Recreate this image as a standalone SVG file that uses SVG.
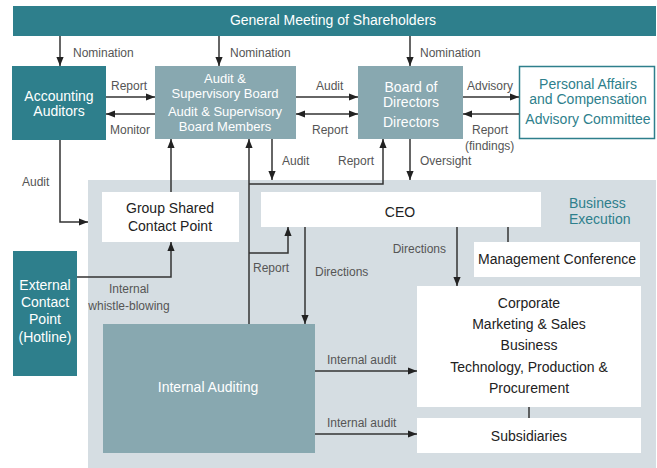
<svg xmlns="http://www.w3.org/2000/svg" width="657" height="468" viewBox="0 0 657 468">
<style>
.t{font-family:"Liberation Sans","DejaVu Sans",sans-serif;}
.bx{font-size:14px;text-anchor:middle;}
.sm{font-size:13px;}
.w{fill:#ffffff;}
.d{fill:#222222;}
.tl{fill:#2e7f8c;}
.lb{font-size:12px;fill:#555555;}
.c{fill:none;stroke:#333333;stroke-width:1.5;}
.teal{fill:#2e7f8c;}
.gb{fill:#88a8b0;}
.wh{fill:#ffffff;}
</style>
<defs>
<marker id="ah" viewBox="0 0 10 10" refX="10" refY="5" markerWidth="9" markerHeight="9" markerUnits="userSpaceOnUse" orient="auto-start-reverse">
<path d="M0,1 L10,5 L0,9 z" fill="#222222"/>
</marker>
</defs>
<rect x="88" y="180" width="568" height="288" fill="#d5dde2"/>
<g id="gms">
<rect x="13" y="6" width="643" height="30" class="teal"/>
<text x="333" y="25" class="t bx w">General Meeting of Shareholders</text>
</g>
<g id="acc">
<rect x="12" y="66" width="94" height="74" class="teal"/>
<text x="59" y="101" class="t bx w">Accounting</text>
<text x="59" y="116" class="t bx w">Auditors</text>
</g>
<g id="asb">
<rect x="155" y="66" width="141" height="73" class="gb"/>
<text x="225" y="83" class="t bx sm w">Audit &amp;</text>
<text x="225" y="98" class="t bx sm w">Supervisory Board</text>
<text x="225" y="116" class="t bx sm w">Audit &amp; Supervisory</text>
<text x="225" y="131" class="t bx sm w">Board Members</text>
</g>
<g id="bod">
<rect x="358" y="66" width="105" height="73" class="gb"/>
<text x="411" y="92" class="t bx w">Board of</text>
<text x="411" y="107" class="t bx w">Directors</text>
<text x="411" y="127" class="t bx w">Directors</text>
</g>
<g id="pac">
<rect x="519.5" y="66.5" width="135" height="72" fill="#ffffff" stroke="#2e7f8c" stroke-width="1.5"/>
<text x="588" y="89" class="t bx tl">Personal Affairs</text>
<text x="588" y="104" class="t bx tl">and Compensation</text>
<text x="588" y="124" class="t bx tl">Advisory Committee</text>
</g>
<g id="be">
<text x="569" y="208" class="t tl" font-size="14">Business</text>
<text x="569" y="224" class="t tl" font-size="14">Execution</text>
</g>
<g id="gscp">
<rect x="102" y="192" width="137" height="50" class="wh"/>
<text x="170" y="213" class="t bx d">Group Shared</text>
<text x="170" y="231" class="t bx d">Contact Point</text>
</g>
<g id="ceo">
<rect x="261" y="192" width="280" height="35" class="wh"/>
<text x="400" y="217" class="t bx d">CEO</text>
</g>
<g id="mc">
<rect x="474" y="242" width="166" height="35" class="wh"/>
<text x="557" y="264" class="t bx d">Management Conference</text>
</g>
<g id="corp">
<rect x="417" y="286" width="224" height="121" class="wh"/>
<text x="529" y="308" class="t bx d">Corporate</text>
<text x="529" y="329" class="t bx d">Marketing &amp; Sales</text>
<text x="529" y="350" class="t bx d">Business</text>
<text x="529" y="372" class="t bx d">Technology, Production &amp;</text>
<text x="529" y="393" class="t bx d">Procurement</text>
</g>
<g id="subs">
<rect x="417" y="418" width="224" height="35" class="wh"/>
<text x="529" y="441" class="t bx d">Subsidiaries</text>
</g>
<g id="ia">
<rect x="103" y="324" width="212" height="129" class="gb"/>
<text x="208" y="392" class="t bx w">Internal Auditing</text>
</g>
<g id="ext">
<rect x="13" y="251" width="64" height="125" class="teal"/>
<text x="45" y="290" class="t bx w">External</text>
<text x="45" y="307" class="t bx w">Contact</text>
<text x="45" y="324" class="t bx w">Point</text>
<text x="45" y="342" class="t bx w">(Hotline)</text>
</g>
<g id="connectors">
<path class="c" d="M60 36 V66" marker-end="url(#ah)"/>
<path class="c" d="M219 36 V66" marker-end="url(#ah)"/>
<path class="c" d="M410 36 V66" marker-end="url(#ah)"/>
<path class="c" d="M106 97 H155" marker-end="url(#ah)"/>
<path class="c" d="M155 114 H106" marker-end="url(#ah)"/>
<path class="c" d="M296 97 H358" marker-end="url(#ah)"/>
<path class="c" d="M296 114 H358" marker-start="url(#ah)" marker-end="url(#ah)"/>
<path class="c" d="M463 97 H519" marker-end="url(#ah)"/>
<path class="c" d="M519 114 H463" marker-end="url(#ah)"/>
<path class="c" d="M272 139 V180" marker-end="url(#ah)"/>
<path class="c" d="M249 184 H383 V139" marker-end="url(#ah)"/>
<path class="c" d="M410 139 V180" marker-end="url(#ah)"/>
<path class="c" d="M249 324 V139" marker-end="url(#ah)"/>
<path class="c" d="M171 192 V139" marker-end="url(#ah)"/>
<path class="c" d="M60 140 V222 H88" marker-end="url(#ah)"/>
<path class="c" d="M77 277 H171 V242" marker-end="url(#ah)"/>
<path class="c" d="M249 253 H288 V227" marker-end="url(#ah)"/>
<path class="c" d="M305 227 V324" marker-end="url(#ah)"/>
<path class="c" d="M457 227 V286" marker-end="url(#ah)"/>
<path class="c" d="M508 227 V242"/>
<path class="c" d="M529 407 V418"/>
<path class="c" d="M315 371 H417" marker-end="url(#ah)"/>
<path class="c" d="M315 434 H417" marker-end="url(#ah)"/>
<text x="73" y="57" class="t lb">Nomination</text>
<text x="230" y="57" class="t lb">Nomination</text>
<text x="420" y="57" class="t lb">Nomination</text>
<text x="111" y="90" class="t lb">Report</text>
<text x="110" y="134" class="t lb">Monitor</text>
<text x="316" y="90" class="t lb">Audit</text>
<text x="312" y="134" class="t lb">Report</text>
<text x="467" y="90" class="t lb">Advisory</text>
<text x="472" y="134" class="t lb">Report</text>
<text x="465" y="150" class="t lb">(findings)</text>
<text x="282" y="165" class="t lb">Audit</text>
<text x="338" y="165" class="t lb">Report</text>
<text x="420" y="165" class="t lb">Oversight</text>
<text x="22" y="186" class="t lb">Audit</text>
<text x="129" y="293" class="t lb" text-anchor="middle">Internal</text>
<text x="129" y="310" class="t lb" text-anchor="middle">whistle-blowing</text>
<text x="253" y="272" class="t lb">Report</text>
<text x="315" y="276" class="t lb">Directions</text>
<text x="446" y="253" class="t lb" text-anchor="end">Directions</text>
<text x="327" y="364" class="t lb">Internal audit</text>
<text x="327" y="427" class="t lb">Internal audit</text>
</g>
</svg>
